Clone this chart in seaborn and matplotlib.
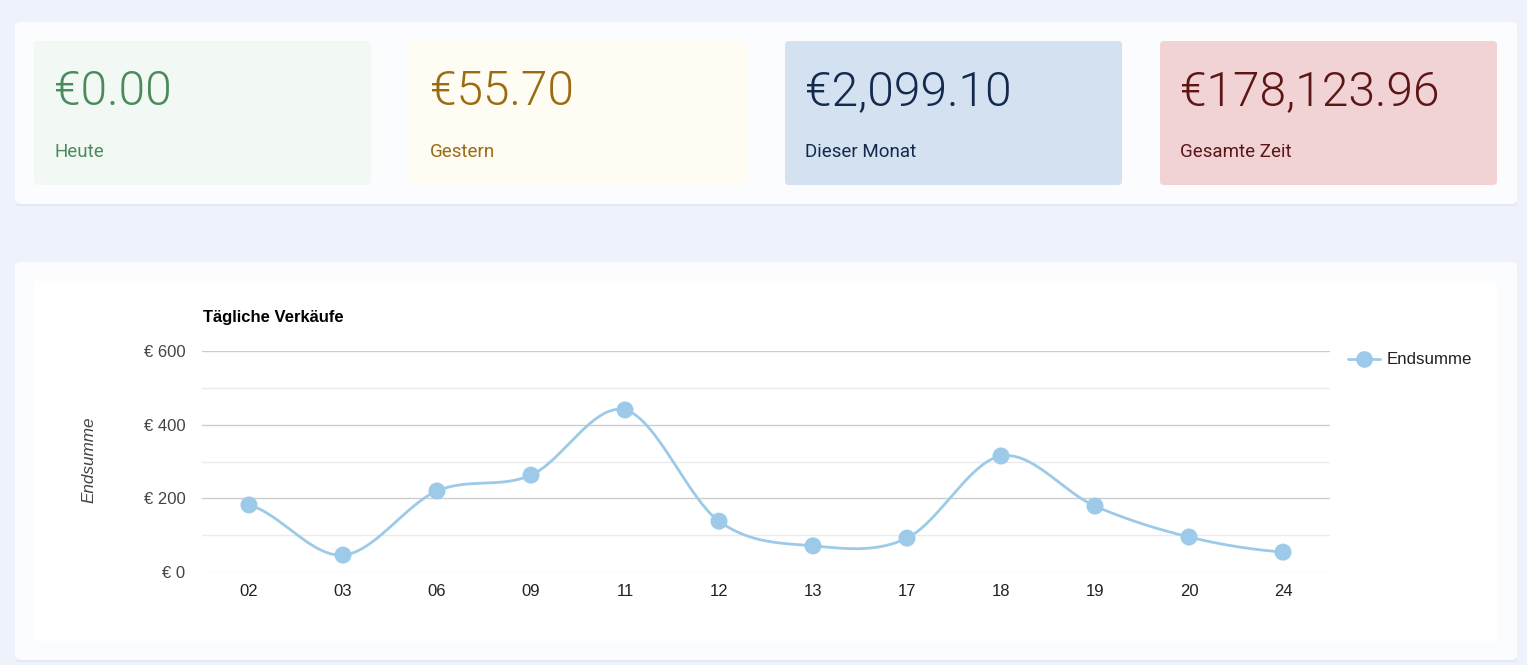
import numpy as np
import pandas as pd
import matplotlib
matplotlib.use("Agg")
import matplotlib.pyplot as plt
from matplotlib.patches import FancyBboxPatch
from matplotlib.lines import Line2D
import seaborn as sns

# --- data ---
card_values = ["€0.00", "€55.70", "€2,099.10", "€178,123.96"]
card_labels = ["Heute", "Gestern", "Dieser Monat", "Gesamte Zeit"]
card_bg = ["#f2f8f3", "#fffcf3", "#d4e1f0", "#f2d3d5"]
card_fg = ["#4a8a5c", "#9a6c12", "#132a4c", "#5c1616"]

days = ["02", "03", "06", "09", "11", "12", "13", "17", "18", "19", "20", "24"]
totals = [182, 46, 220, 263, 440, 138, 71, 92, 315, 179, 95, 54]

line_color = "#9dcae8"

sns.set_theme(style="white")
plt.rcParams["font.family"] = ["Liberation Sans", "DejaVu Sans"]

W, H = 1527, 665
fig = plt.figure(figsize=(W / 100, H / 100), dpi=100)
fig.patch.set_facecolor("#eef3fb")

# background layer in pixel coordinates
bg = fig.add_axes([0, 0, 1, 1])
bg.set_xlim(0, W)
bg.set_ylim(H, 0)
bg.axis("off")


def box(x0, y0, x1, y1, color, r=4, z=1):
    p = FancyBboxPatch((x0 + r, y0 + r), x1 - x0 - 2 * r, y1 - y0 - 2 * r,
                       boxstyle=f"round,pad={r}", fc=color, ec="none", zorder=z)
    bg.add_patch(p)


# panels with soft shadow
for (y0, y1) in [(22, 204), (262, 660)]:
    box(15, y0 + 2, 1517, y1 + 2, "#e3e9f3", r=5, z=0.5)
    box(15, y0, 1517, y1, "#fafcfe", r=5, z=1)

# stat cards
card_x = [34, 410, 785, 1160]
for i in range(4):
    x0 = card_x[i]
    box(x0, 41, x0 + 337, 185, card_bg[i], r=4, z=2)
    bg.text(x0 + 20, 105, card_values[i], fontsize=34.5, color=card_fg[i],
            family=["Roboto", "DejaVu Sans"], fontweight=300,
            va="baseline", ha="left", zorder=3)
    bg.text(x0 + 20, 157, card_labels[i], fontsize=13.5, color=card_fg[i],
            family=["Roboto", "DejaVu Sans"], va="baseline", ha="left", zorder=3)

# chart area
box(34, 281, 1497, 641, "#ffffff", r=2, z=2)

left, right, top, bottom = 202, 1330, 351, 572
ax = fig.add_axes([left / W, (H - bottom) / H, (right - left) / W, (bottom - top) / H])
ax.set_facecolor("none")
ax.set_zorder(5)

df = pd.DataFrame({"day": days, "total": totals})
df["pos"] = np.arange(len(df))


def smooth(ys, n=40):
    # Catmull-Rom spline through the points
    ys = np.asarray(ys, float)
    px, py = [], []
    for i in range(len(ys) - 1):
        p0 = ys[i - 1] if i > 0 else ys[i]
        p1, p2 = ys[i], ys[i + 1]
        p3 = ys[i + 2] if i + 2 < len(ys) else ys[i + 1]
        m1 = (p2 - p0) / 2
        m2 = (p3 - p1) / 2
        t = np.linspace(0, 1, n, endpoint=False)
        h00 = 2 * t**3 - 3 * t**2 + 1
        h10 = t**3 - 2 * t**2 + t
        h01 = -2 * t**3 + 3 * t**2
        h11 = t**3 - t**2
        px.extend(i + t)
        py.extend(h00 * p1 + h10 * m1 + h01 * p2 + h11 * m2)
    px.append(len(ys) - 1)
    py.append(ys[-1])
    return pd.DataFrame({"pos": px, "total": py})


curve = smooth(df["total"])
sns.lineplot(data=curve, x="pos", y="total", ax=ax, color=line_color,
             linewidth=2, sort=False, zorder=3)
sns.scatterplot(data=df, x="pos", y="total", ax=ax, color=line_color,
                s=150, edgecolor="none", zorder=4)

ax.set_xlim(-0.5, len(days) - 0.5)
ax.set_ylim(0, 600)
for v in range(0, 601, 100):
    c = "#cccccc" if v % 200 == 0 and v > 0 else "#ebebeb"
    ax.axhline(v, color=c, linewidth=1, zorder=1)

ax.set_xticks(df["pos"])
ax.set_xticklabels(days, fontsize=12, color="#222222")
ax.set_yticks([0, 200, 400, 600])
ax.set_yticklabels([f"€ {v}" for v in [0, 200, 400, 600]], fontsize=12, color="#444444")
ax.tick_params(axis="x", length=0, pad=9)
ax.tick_params(axis="y", length=0, pad=12)
for s in ax.spines.values():
    s.set_visible(False)
ax.set_xlabel("")
ax.set_ylabel("")

bg.text(203, 322, "Tägliche Verkäufe", fontsize=12, fontweight="bold",
        color="#000000", va="baseline", ha="left", zorder=6)
bg.text(89, 460, "Endsumme", fontsize=12.3, style="italic", color="#444444",
        rotation=90, va="center", ha="center", zorder=6)

# legend
bg.add_line(Line2D([1348, 1380], [359, 359], color=line_color, linewidth=2, zorder=6))
bg.plot([1364], [359], "o", color=line_color, markersize=12, mec="none", zorder=7)
bg.text(1387, 364, "Endsumme", fontsize=12.2, color="#222222",
        va="baseline", ha="left", zorder=6)

fig.savefig("out.png", dpi=100, facecolor=fig.get_facecolor())
